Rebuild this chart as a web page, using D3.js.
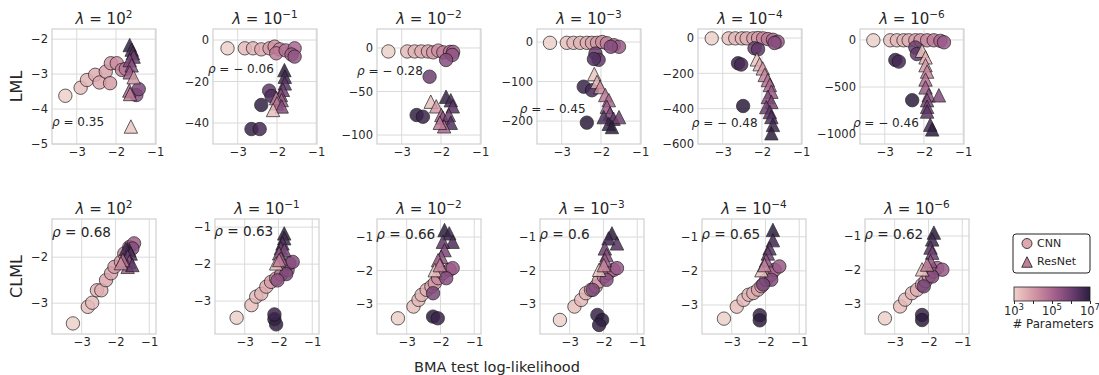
<!DOCTYPE html>
<html>
<head>
<meta charset="utf-8">
<script src="https://cdn.jsdelivr.net/npm/d3@7"></script>
<style>
  body { margin: 0; background: #fff; }
  text { font-family: "DejaVu Sans", sans-serif; fill: #262626; }
</style>
</head>
<body>
<svg id="chart" width="1099" height="375"></svg>
<script>
// ---- data ----
// each point: [BMA test log-likelihood, marginal likelihood value, log10(# parameters)]
const lambdaExps = ['2', '\u22121', '\u22122', '\u22123', '\u22124', '\u22126'];
const xTicks = [-3, -2, -1];

const lmlCNN = [
  [[-3.29,-3.62,3.0],[-2.90,-3.39,3.3],[-2.74,-3.17,3.5],[-2.53,-3.02,3.6],[-2.42,-3.24,3.7],[-2.26,-2.93,3.8],[-2.15,-3.26,3.9],[-2.13,-2.69,4.0],[-1.98,-2.69,4.2],[-1.85,-2.88,4.4],[-1.75,-2.85,4.7],[-1.48,-3.6,5.5],[-1.42,-3.43,5.8]],
  [[-3.26,-4,3.0],[-2.82,-4,3.4],[-2.61,-4,3.5],[-2.4,-4.5,3.7],[-2.19,-4,3.9],[-2.06,-3.2,4.1],[-1.93,-4.5,4.3],[-2.02,-6.4,4.6],[-1.78,-5,4.8],[-1.55,-4,5.0],[-1.63,-7,5.2],[-1.55,-8,5.4],[-2.2,-24.4,6.2],[-2.14,-27,6.5],[-2.4,-31.3,6.9],[-2.65,-42.9,6.8],[-2.44,-42.9,6.6]],
  [[-3.34,-4,3.0],[-2.86,-4,3.4],[-2.67,-4,3.5],[-2.5,-4,3.6],[-2.33,-4,3.8],[-2.2,-5,4.0],[-2.07,-3,4.2],[-1.94,-5,4.5],[-1.77,-4.5,4.8],[-1.69,-4.5,5.1],[-1.71,-8,5.4],[-1.87,-13.8,5.6],[-2.29,-33,6.0],[-2.62,-77,6.9],[-2.46,-79,6.8]],
  [[-3.3,-2,3.0],[-2.87,-2,3.3],[-2.7,-2,3.4],[-2.53,-2,3.5],[-2.36,-2,3.6],[-2.23,-2,3.8],[-2.1,-2,4.0],[-1.97,0,4.2],[-1.85,-3,4.5],[-1.67,-8,5.0],[-1.54,-12,5.3],[-1.75,-12,5.6],[-2.14,-29,6.0],[-2.06,-45,6.2],[-2.18,-43,6.4],[-2.44,-113,6.8],[-2.23,-122,6.6],[-2.36,-204,7.0]],
  [[-3.28,-2,3.0],[-2.85,-2,3.3],[-2.68,-2,3.4],[-2.51,-2,3.5],[-2.39,-2,3.6],[-2.22,-2,3.8],[-2.1,0,4.0],[-1.97,-2,4.3],[-1.85,-6,4.6],[-1.72,-10,4.9],[-1.6,-21,5.3],[-1.68,-28,5.6],[-2.19,-58,6.0],[-2.1,-64,6.2],[-2.61,-143,6.8],[-2.53,-150,6.6],[-2.48,-385,7.0]],
  [[-3.29,-4,3.0],[-2.86,-4,3.3],[-2.69,-4,3.4],[-2.52,-4,3.5],[-2.39,-4,3.6],[-2.22,-4,3.8],[-2.09,-4,4.0],[-1.92,-4,4.3],[-1.75,-4,4.6],[-1.58,-10,5.0],[-1.49,-25,5.3],[-2.22,-80,6.0],[-2.18,-150,6.2],[-2.73,-213,6.8],[-2.64,-230,6.6],[-2.3,-640,7.0]]
];
const lmlResNet = [
  [[-1.65,-2.17,6.9],[-1.6,-2.3,6.6],[-1.57,-2.4,6.3],[-1.55,-2.5,6.0],[-1.65,-2.6,5.8],[-1.6,-2.75,5.5],[-1.65,-2.95,5.2],[-1.55,-3.09,4.0],[-1.66,-3.47,5.0],[-1.64,-3.57,4.6],[-1.62,-4.5,3.2]],
  [[-1.81,-14.5,7.0],[-1.8,-17.7,6.7],[-1.8,-20.9,6.3],[-1.85,-24,6.0],[-1.9,-26.5,5.6],[-1.88,-28.9,5.3],[-2.02,-28,4.5],[-2.0,-30.5,4.8],[-1.88,-32,5.6],[-2.1,-33.7,3.3]],
  [[-2.26,-61.7,3.3],[-2.12,-67,4.0],[-1.87,-56,6.9],[-1.75,-60,6.6],[-1.7,-67,6.3],[-1.99,-77,5.0],[-1.95,-80,5.4],[-1.8,-77,6.0],[-1.75,-86,6.4],[-1.92,-90,5.0],[-2.03,-86,4.6]],
  [[-2.17,-81,3.2],[-2.1,-101,3.6],[-2.02,-114,4.2],[-1.89,-134,4.6],[-1.8,-147,5.0],[-1.85,-164,5.3],[-1.77,-181,5.8],[-1.68,-194,6.2],[-1.54,-190,6.0],[-1.93,-190,6.5],[-1.8,-207,6.8],[-1.72,-215,7.0]],
  [[-2.13,-121,3.2],[-2.06,-148,3.6],[-1.98,-172,4.0],[-1.93,-209,4.4],[-1.85,-238,4.8],[-1.8,-266,5.0],[-1.76,-304,5.3],[-1.85,-334,5.6],[-1.76,-362,5.8],[-1.89,-391,6.0],[-1.8,-419,6.3],[-1.76,-447,6.5],[-1.72,-492,6.8],[-1.76,-539,7.0]],
  [[-2.05,-115,3.2],[-1.96,-185,3.6],[-1.96,-268,4.0],[-1.92,-336,4.4],[-1.96,-420,4.8],[-1.96,-504,5.2],[-1.88,-588,5.5],[-1.62,-588,5.7],[-1.92,-640,5.8],[-1.92,-710,6.0],[-1.92,-760,6.3],[-1.84,-900,6.6],[-1.79,-950,7.0]]
];
const clmlCNN = [
  [[-3.26,-3.44,3.0],[-2.82,-3.08,3.3],[-2.69,-2.99,3.4],[-2.55,-2.72,3.5],[-2.42,-2.72,3.6],[-2.28,-2.5,3.7],[-2.13,-2.35,3.8],[-2.03,-2.21,3.9],[-1.84,-2.1,4.0],[-1.74,-1.92,4.3],[-1.59,-1.78,4.8],[-1.45,-1.7,5.2],[-1.5,-1.81,5.6]],
  [[-3.24,-3.45,3.0],[-2.8,-3.11,3.3],[-2.66,-2.88,3.4],[-2.51,-2.8,3.5],[-2.36,-2.61,3.7],[-2.22,-2.48,3.9],[-2.07,-2.39,4.2],[-1.92,-2.28,4.6],[-1.73,-2.16,5.0],[-1.68,-1.98,5.3],[-1.58,-1.94,5.6],[-1.77,-2.27,5.8],[-2.03,-2.44,5.5],[-2.12,-3.49,7.0],[-2.07,-3.63,6.9],[-2.12,-3.36,6.8]],
  [[-3.26,-3.43,3.0],[-2.8,-3.08,3.3],[-2.65,-2.88,3.4],[-2.56,-2.73,3.5],[-2.41,-2.58,3.6],[-2.27,-2.48,3.8],[-2.17,-2.38,4.0],[-2.07,-2.23,4.3],[-1.93,-2.08,4.6],[-1.73,-1.98,5.0],[-1.64,-1.93,5.3],[-1.83,-2.23,5.6],[-2.22,-2.68,5.8],[-2.22,-3.38,7.0],[-2.08,-3.43,6.8]],
  [[-3.29,-3.48,3.0],[-2.86,-3.08,3.3],[-2.66,-2.88,3.4],[-2.52,-2.68,3.5],[-2.37,-2.58,3.6],[-2.23,-2.48,3.8],[-2.14,-2.33,4.0],[-1.99,-2.18,4.3],[-1.85,-2.08,4.6],[-1.7,-1.98,5.0],[-1.6,-1.93,5.3],[-1.91,-2.28,5.6],[-2.32,-2.58,5.8],[-2.18,-3.33,6.8],[-2.04,-3.48,7.0],[-2.13,-3.63,6.9]],
  [[-3.23,-3.4,3.0],[-2.85,-3.05,3.3],[-2.65,-2.85,3.4],[-2.5,-2.7,3.5],[-2.36,-2.65,3.6],[-2.22,-2.55,3.8],[-2.12,-2.45,4.0],[-1.98,-2.26,4.3],[-1.83,-2.11,4.6],[-1.73,-1.97,5.0],[-1.59,-1.87,5.3],[-1.83,-2.26,5.7],[-2.07,-2.4,5.9],[-2.17,-3.3,6.8],[-2.17,-3.45,7.0]],
  [[-3.29,-3.42,3.0],[-2.84,-3.07,3.3],[-2.69,-2.87,3.4],[-2.49,-2.68,3.5],[-2.34,-2.58,3.6],[-2.19,-2.43,3.8],[-2.09,-2.33,4.0],[-1.99,-2.19,4.3],[-1.84,-2.04,4.6],[-1.74,-1.94,5.0],[-1.59,-1.99,5.3],[-1.89,-2.19,5.7],[-2.14,-2.48,5.9],[-2.19,-3.32,6.8],[-2.19,-3.47,7.0]]
];
const clmlResNet = [
  [[-1.59,-1.85,7.0],[-1.69,-1.82,6.7],[-1.55,-1.92,6.4],[-1.64,-1.99,6.0],[-1.59,-2.1,5.5],[-1.64,-2.21,5.2],[-1.5,-2.17,6.2],[-1.78,-2.06,4.8],[-1.84,-2.13,4.2]],
  [[-1.83,-1.17,7.0],[-1.83,-1.3,6.7],[-1.88,-1.44,6.4],[-1.93,-1.57,6.1],[-1.83,-1.62,5.8],[-1.98,-1.71,5.5],[-1.93,-1.85,5.2],[-2.07,-1.98,3.4],[-1.98,-1.89,4.5]],
  [[-1.88,-0.79,7.0],[-1.74,-0.89,6.8],[-1.64,-1.14,6.5],[-1.93,-1.14,6.2],[-1.88,-1.39,5.8],[-1.98,-1.59,5.4],[-2.07,-1.69,5.0],[-2.17,-1.99,3.3],[-2.02,-1.84,4.4]],
  [[-1.75,-0.89,7.0],[-1.85,-1.04,6.7],[-1.6,-1.19,6.4],[-1.96,-1.34,6.0],[-1.91,-1.54,5.6],[-1.96,-1.69,5.2],[-2.13,-1.98,3.3],[-1.99,-1.84,4.4]],
  [[-1.78,-0.8,7.0],[-1.78,-1.1,6.7],[-1.88,-1.34,6.4],[-1.93,-1.49,6.0],[-1.98,-1.69,5.5],[-2.12,-1.98,3.3],[-2.03,-1.83,4.5]],
  [[-1.84,-0.9,7.0],[-1.89,-1.1,6.7],[-1.94,-1.34,6.3],[-1.89,-1.49,6.0],[-1.94,-1.74,5.5],[-2.19,-1.98,3.3],[-2.04,-1.84,4.5]]
];

const rhoLML = ['0.35', '\u2212 0.06', '\u2212 0.28', '\u2212 0.45', '\u2212 0.48', '\u2212 0.46'];
const rhoCLML = ['0.68', '0.63', '0.66', '0.6', '0.65', '0.62'];
const rhoPosLML = [[-3.63,-4.36],[-3.76,-14],[-4.14,-26],[-4.07,-170],[-3.79,-479],[-3.81,-879]];
const rhoPosCLML = [[-3.88,-1.48],[-3.9,-1.14],[-3.9,-0.94],[-3.9,-0.94],[-3.9,-0.95],[-3.9,-0.96]];

const lmlYDomains = [[-5,-1.71],[-50.1,5.3],[-110.3,21.8],[-258,33],[-600,51],[-1105,116]];
const lmlYTicks = [[-5,-4,-3,-2],[-40,-20,0],[-100,-50,0],[-200,-100,0],[-600,-400,-200,0],[-1000,-500,0]];
const clmlYDomains = [[-3.67,-1.17],[-3.89,-0.78],[-3.9,-0.46],[-3.9,-0.46],[-3.85,-0.48],[-3.88,-0.5]];
const clmlYTicks = [[-3,-2],[-3,-2,-1],[-3,-2,-1],[-3,-2,-1],[-3,-2,-1],[-3,-2,-1]];

const paramTicks = [1e3, 1e4, 1e5, 1e6, 1e7];

// ---- seaborn default cubehelix_palette (light .85 -> dark .15) ----
function seabornCubehelix(t) {
  const x = 0.85 + (0.15 - 0.85) * t;
  const a = 0.8 * x * (1 - x) / 2;
  const phi = 2 * Math.PI * (0.4 * x);
  const c = Math.cos(phi), s = Math.sin(phi);
  const cl = v => Math.round(255 * Math.max(0, Math.min(1, v)));
  const r = x + a * (-0.14861 * c + 1.78277 * s);
  const g = x + a * (-0.29227 * c - 0.90649 * s);
  const b = x + a * (1.97294 * c);
  return d3.rgb(cl(r), cl(g), cl(b)).formatHex();
}
const color = d3.scaleSequential(seabornCubehelix).domain([3, 7]);

const svg = d3.select('#chart');
svg.append('rect').attr('width', 1099).attr('height', 375).attr('fill', '#fff');
const defs = svg.append('defs');

const PW = 104, PH = 115;
const minus = d => d3.format('')(d).replace('-', '\u2212');

const triangle = {
  draw(ctx, size) {
    const h = size / 2;
    ctx.moveTo(0, -h); ctx.lineTo(h, h); ctx.lineTo(-h, h); ctx.closePath();
  }
};
const triSym = d3.symbol().type(triangle).size(13.4);

const rows = [
  { label: 'LML', cnn: lmlCNN, res: lmlResNet, yDom: lmlYDomains, yTicks: lmlYTicks,
    rho: rhoLML, rhoPos: rhoPosLML, rhoSize: 12, top: 29,
    lefts: [52, 213, 377, 537, 698, 860], xDom: [-3.63, -0.98] },
  { label: 'CLML', cnn: clmlCNN, res: clmlResNet, yDom: clmlYDomains, yTicks: clmlYTicks,
    rho: rhoCLML, rhoPos: rhoPosCLML, rhoSize: 13.6, top: 219,
    lefts: [52, 215, 377, 540, 702, 865], xDom: [-3.88, -0.8] }
];

rows.forEach((row, ri) => {
  row.lefts.forEach((left, i) => {
    const top = row.top;
    const x = d3.scaleLinear().domain(row.xDom).range([left, left + PW]);
    const y = d3.scaleLinear().domain(row.yDom[i]).range([top + PH, top]);
    const g = svg.append('g');

    // grid
    g.selectAll('.vg').data(xTicks).join('line')
      .attr('x1', d => x(d)).attr('x2', d => x(d)).attr('y1', top).attr('y2', top + PH)
      .attr('stroke', '#dadada').attr('stroke-width', 1);
    g.selectAll('.hg').data(row.yTicks[i]).join('line')
      .attr('y1', d => y(d)).attr('y2', d => y(d)).attr('x1', left).attr('x2', left + PW)
      .attr('stroke', '#dadada').attr('stroke-width', 1);
    g.append('rect').attr('x', left).attr('y', top).attr('width', PW).attr('height', PH)
      .attr('fill', 'none').attr('stroke', '#d0d0d0').attr('stroke-width', 1.2);

    const cid = `clip${ri}_${i}`;
    defs.append('clipPath').attr('id', cid).append('rect')
      .attr('x', left).attr('y', top).attr('width', PW).attr('height', PH);
    const marks = g.append('g').attr('clip-path', `url(#${cid})`);

    marks.selectAll('circle').data(row.cnn[i]).join('circle')
      .attr('cx', d => x(d[0])).attr('cy', d => y(d[1])).attr('r', 6.7)
      .attr('fill', d => color(d[2])).attr('stroke', '#151515').attr('stroke-width', 0.8)
      .attr('opacity', 0.85);
    marks.selectAll('path').data(row.res[i]).join('path')
      .attr('d', triSym)
      .attr('transform', d => `translate(${x(d[0])},${y(d[1])})`)
      .attr('fill', d => color(d[2])).attr('stroke', '#151515').attr('stroke-width', 0.8)
      .attr('opacity', 0.85);

    // axes
    const ay = g.append('g').attr('transform', `translate(${left},0)`)
      .call(d3.axisLeft(y).tickValues(row.yTicks[i]).tickSize(0).tickPadding(4).tickFormat(minus));
    const ax = g.append('g').attr('transform', `translate(0,${top + PH})`)
      .call(d3.axisBottom(x).tickValues(xTicks).tickSize(0).tickPadding(4).tickFormat(minus));
    [ay, ax].forEach(a => {
      a.select('.domain').remove();
      a.attr('font-size', 11.5).attr('font-family', '"DejaVu Sans", sans-serif').attr('color', '#262626');
    });

    // title
    const t = g.append('text').attr('x', left + PW / 2).attr('y', top - 5)
      .attr('text-anchor', 'middle').attr('font-size', 15);
    t.append('tspan').attr('font-style', 'italic').text('\u03bb');
    t.append('tspan').text(' = 10');
    t.append('tspan').attr('font-size', 10.5).attr('dy', -6).text(lambdaExps[i]);

    // correlation
    const rp = row.rhoPos[i];
    const rt = g.append('text').attr('x', x(rp[0])).attr('y', y(rp[1]))
      .attr('dominant-baseline', 'middle').attr('font-size', row.rhoSize);
    rt.append('tspan').attr('font-style', 'italic').text('\u03c1');
    rt.append('tspan').text(' = ' + row.rho[i]);
  });

  const cy = row.top + PH / 2;
  svg.append('text').attr('transform', `translate(17,${cy}) rotate(-90)`)
    .attr('text-anchor', 'middle').attr('dominant-baseline', 'middle')
    .attr('font-size', 16).text(row.label);
});

svg.append('text').attr('x', 497).attr('y', 372).attr('text-anchor', 'middle')
  .attr('font-size', 14.5).text('BMA test log-likelihood');

// legend
const lg = svg.append('g');
lg.append('rect').attr('x', 1013).attr('y', 234).attr('width', 77).attr('height', 39).attr('rx', 3)
  .attr('fill', '#fff').attr('stroke', '#222').attr('stroke-width', 1);
lg.append('circle').attr('cx', 1027).attr('cy', 243.5).attr('r', 5)
  .attr('fill', color(3.7)).attr('stroke', '#151515').attr('stroke-width', 0.8);
lg.append('path').attr('d', d3.symbol().type(triangle).size(10.5))
  .attr('transform', 'translate(1027,262)')
  .attr('fill', color(4.5)).attr('stroke', '#151515').attr('stroke-width', 0.8);
lg.append('text').attr('x', 1037).attr('y', 243.5).attr('dominant-baseline', 'middle').attr('font-size', 11).text('CNN');
lg.append('text').attr('x', 1037).attr('y', 262).attr('dominant-baseline', 'middle').attr('font-size', 11).text('ResNet');

// colorbar
const grad = defs.append('linearGradient').attr('id', 'cbar');
d3.range(0, 1.0001, 0.1).forEach(t => {
  grad.append('stop').attr('offset', t).attr('stop-color', color(3 + 4 * t));
});
const cbX = d3.scaleLog().domain([1e3, 1e7]).range([1014, 1090]);
svg.append('rect').attr('x', 1014).attr('y', 287).attr('width', 76).attr('height', 14)
  .attr('fill', 'url(#cbar)').attr('stroke', '#222').attr('stroke-width', 0.8);
const cb = svg.append('g').attr('transform', 'translate(0,301)')
  .call(d3.axisBottom(cbX).tickValues(paramTicks).tickSize(3).tickPadding(1).tickFormat(() => ''));
cb.select('.domain').remove();
cb.attr('color', '#262626');
paramTicks.filter((d, i) => i % 2 === 0).forEach(d => {
  const tx = svg.append('text').attr('x', cbX(d)).attr('y', 314.5).attr('text-anchor', 'middle').attr('font-size', 11.5);
  tx.append('tspan').text('10');
  tx.append('tspan').attr('font-size', 8.5).attr('dy', -5).text(Math.round(Math.log10(d)));
});
svg.append('text').attr('x', 1053).attr('y', 328).attr('text-anchor', 'middle').attr('font-size', 11.8).text('# Parameters');
</script>
</body>
</html>
